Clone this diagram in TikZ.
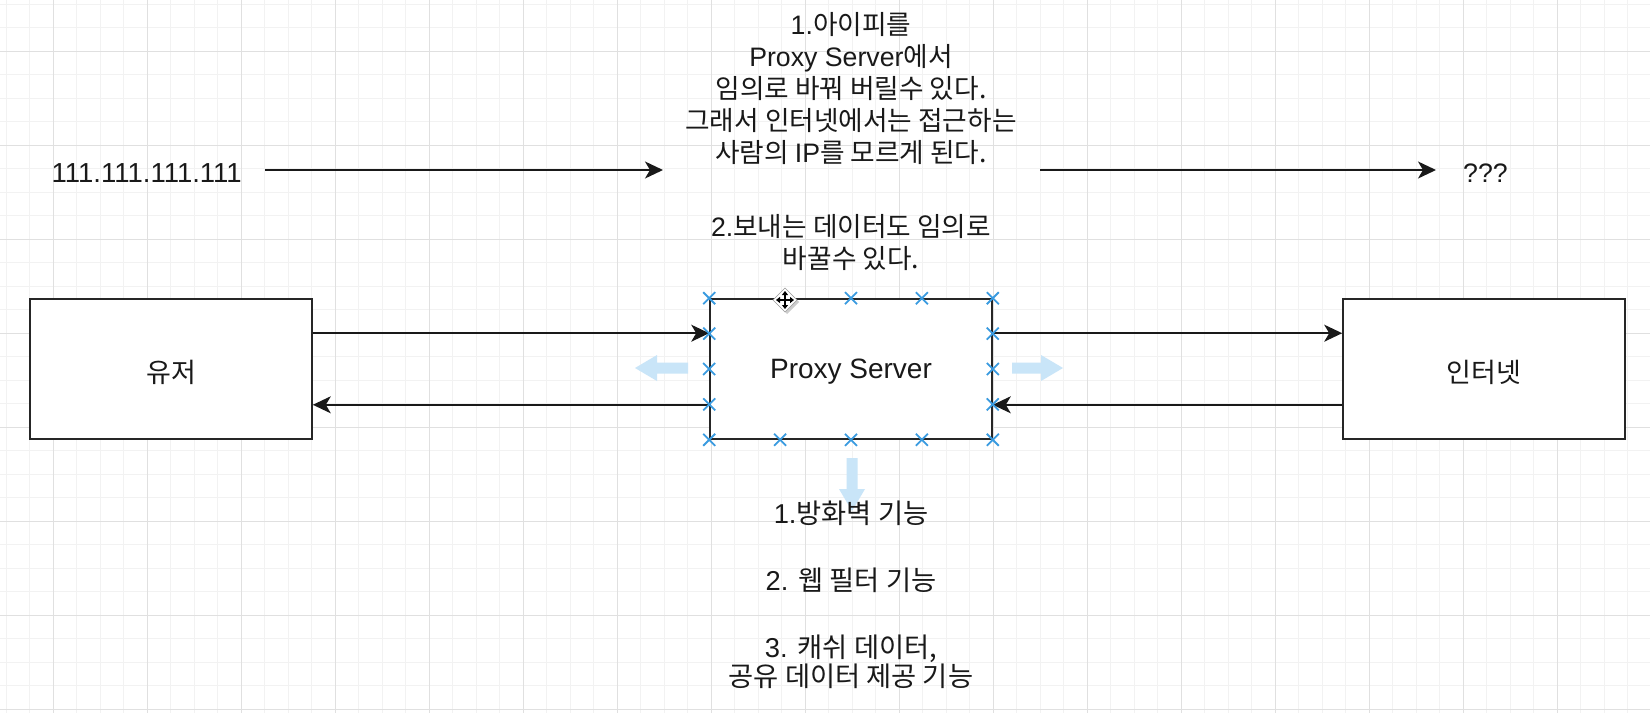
\documentclass[tikz,border=0pt]{standalone}
\usepackage{fontspec}
\setmainfont{Noto Sans CJK KR}
\newfontfamily\lat{Liberation Sans}
\usepackage{xcolor}
\usepackage{tikz}
\usetikzlibrary{positioning,calc,arrows.meta}

\definecolor{gridminor}{HTML}{F2F2F2}
\definecolor{gridmajor}{HTML}{E0E0E0}
\definecolor{selblue}{HTML}{3A9BE0}
\definecolor{hoverblue}{HTML}{C9E5F8}

\begin{document}
\begin{tikzpicture}[x=1pt, y=-1pt,
        box/.style={draw=black!85, line width=1.6pt, fill=white, minimum width=282pt, minimum height=140pt, inner sep=0pt, text=black!90, font=\fontsize{27}{30}\selectfont},
        conn/.style={line width=1.6pt, draw=black!90, -{Stealth[length=18pt, width=17pt, inset=5pt]}},
        note/.style={align=center, inner sep=0pt, text=black!90, font=\fontsize{26.7}{32}\selectfont},
        feats/.style={note, font=\fontsize{27.3}{29}\selectfont},
        handle/.style={draw=selblue, line width=1.8pt},
        hint/.style={fill=hoverblue}]
        \useasboundingbox (0,0) rectangle (1650,713);
        \fill[white] (0,0) rectangle (1650,713);

        % Grid
        \foreach \i in {0,...,70} {
            \draw[gridminor, line width=1pt] ({6+23.5*\i},0) -- ({6+23.5*\i},713);
        }
        \foreach \j in {0,...,30} {
            \draw[gridminor, line width=1pt] (0,{4+23.5*\j}) -- (1650,{4+23.5*\j});
        }
        \foreach \i in {0,...,17} {
            \draw[gridmajor, line width=1pt] ({53+94*\i},0) -- ({53+94*\i},713);
        }
        \foreach \j in {0,...,7} {
            \draw[gridmajor, line width=1pt] (0,{51+94*\j}) -- (1650,{51+94*\j});
        }

        % Boxes
        \node[box] (user) at (171,369) {\raisebox{-3pt}[\height][\depth]{유저}};
        \node[box] (proxy) at (851,369) {\raisebox{-3pt}[\height][\depth]{\lat\fontsize{28}{30}\selectfont Proxy Server}};
        \node[box] (inet) at (1484,369) {\raisebox{-3pt}[\height][\depth]{인터넷}};

        % Hover arrows
        \fill[hint] (635,368) -- (657,355) -- (657,362.5) -- (688,362.5) -- (688,373.5) -- (657,373.5) -- (657,381) -- cycle;
        \fill[hint] (1063,368) -- (1041,355) -- (1041,362.5) -- (1012,362.5) -- (1012,373.5) -- (1041,373.5) -- (1041,381) -- cycle;
        \fill[hint] (852,511) -- (839,489) -- (846.5,489) -- (846.5,458) -- (857.5,458) -- (857.5,489) -- (865,489) -- cycle;

        % Connectors
        \draw[conn] ([yshift=-35pt]user.north east) -- ([yshift=-35pt]proxy.north west);
        \draw[conn] ([yshift=35pt]proxy.south west) -- ([yshift=35pt]user.south east);
        \draw[conn] ([yshift=-35pt]proxy.north east) -- ([yshift=-35pt]inet.north west);
        \draw[conn] ([yshift=35pt]inet.south west) -- ([yshift=35pt]proxy.south east);

        % Selection handles
        \foreach \t in {0,0.5,0.75,1} {
            \draw[handle] ($(proxy.north west)!\t!(proxy.north east)$) +(-6,-6) -- +(6,6) +(-6,6) -- +(6,-6);
        }
        \foreach \t in {0,0.25,0.5,0.75,1} {
            \draw[handle] ($(proxy.south west)!\t!(proxy.south east)$) +(-6,-6) -- +(6,6) +(-6,6) -- +(6,-6);
        }
        \foreach \t in {0.25,0.5,0.75} {
            \draw[handle] ($(proxy.north west)!\t!(proxy.south west)$) +(-6,-6) -- +(6,6) +(-6,6) -- +(6,-6);
            \draw[handle] ($(proxy.north east)!\t!(proxy.south east)$) +(-6,-6) -- +(6,6) +(-6,6) -- +(6,-6);
        }

        % Move cursor
        \fill[black!20] (787,290) -- (799,302) -- (787,314) -- (775,302) -- cycle;
        \filldraw[fill=white, draw=black!40] (785,288) -- (797,300) -- (785,312) -- (773,300) -- cycle;
        \foreach \dx/\dy in {1/0,-1/0,0/1,0/-1} {
            \draw[line width=1.5pt, -{Triangle[length=4pt, width=6pt]}] (785,300) -- ++({9*\dx},{9*\dy});
        }

        % Top texts
        \node[note, anchor=base east, font=\fontsize{27.5}{32}\selectfont] (ip) at (242,182) {\lat 111.111.111.111};
        \node[note, anchor=base west] (unk) at (1463,182) {\lat ???};
        \coordinate (hidin) at (663,170);
        \coordinate (hidout) at (1040,170);
        \draw[conn] ([xshift=23pt]ip.east |- hidin) -- (hidin);
        \draw[conn] (hidout) -- ([xshift=-27pt]unk.west |- hidout);

        \node[note, anchor=north] (why) at (851,12) {{\lat 1.}아이피를\\ {\lat Proxy Server}에서\\ 임의로 바꿔 버릴수 있다.\\ 그래서 인터넷에서는 접근하는\\ 사람의 {\lat IP}를 모르게 된다.\\[42pt] {\lat 2.}보내는 데이터도 임의로\\ 바꿀수 있다.};

        % Functions
        \node[feats, anchor=north] (func) at (851,501) {{\lat 1.}방화벽 기능\\[38pt] {\lat 2. }웹 필터 기능\\[38pt] {\lat 3. }캐쉬 데이터,\\ 공유 데이터 제공 기능};
    \end{tikzpicture}
\end{document}
